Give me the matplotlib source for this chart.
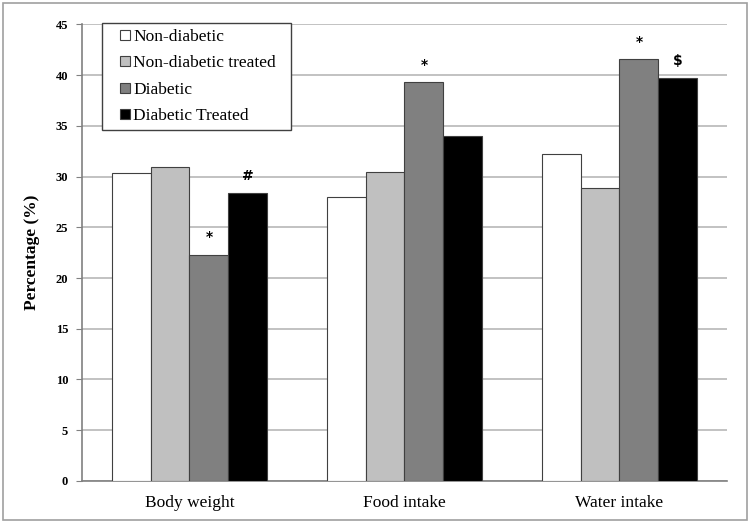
import numpy as np
import matplotlib.pyplot as plt
from matplotlib.patches import Rectangle
from matplotlib.lines import Line2D

categories = ['Body weight', 'Food intake', 'Water intake']
series = ['Non-diabetic', 'Non-diabetic treated', 'Diabetic', 'Diabetic Treated']
non_diabetic = [30.3, 28.0, 32.2]
non_diabetic_treated = [30.9, 30.4, 28.9]
diabetic = [22.3, 39.3, 41.6]
diabetic_treated = [28.35, 34.0, 39.7]
# significance marks: (category index, series index, symbol)
marks = [(0, 2, '*'), (0, 3, '#'), (1, 2, '*'), (2, 2, '*'), (2, 3, '$')]

colors = ['white', '#c0c0c0', '#808080', 'black']
values = [non_diabetic, non_diabetic_treated, diabetic, diabetic_treated]

plt.rcParams['font.family'] = 'Liberation Serif'

fig = plt.figure(figsize=(7.5, 5.24), dpi=100)
fig.patches.append(Rectangle((0.004, 0.008), 0.992, 0.986, transform=fig.transFigure,
                             fill=False, edgecolor='#a0a0a0', linewidth=1.2))
ax = fig.add_axes([0.1093, 0.0821, 0.86, 0.8715])

x = np.arange(len(categories))
w = 0.725 / 4
for i, (name, vals) in enumerate(zip(series, values)):
    ax.bar(x + (i - 1.5) * w, vals, w, color=colors[i], edgecolor='#404040',
           linewidth=0.8, label=name, zorder=3)

for c, s, sym in marks:
    ax.text(x[c] + (s - 1.5) * w, values[s][c] + 1.7, sym, ha='center', va='center',
            fontsize=10, fontweight='bold', family='DejaVu Sans', zorder=4)

ax.set_xlim(-0.5, 2.5)
ax.set_ylim(0, 45)
ax.set_yticks(np.arange(0, 46, 5))
ax.set_xticks(x)
ax.set_xticklabels(categories, fontsize=12.5)
ax.tick_params(axis='x', length=0, pad=10)
ax.tick_params(axis='y', length=4, width=0.8, color='#808080', labelsize=9, pad=6)
for lab in ax.get_yticklabels():
    lab.set_fontweight('bold')
ax.yaxis.grid(True, color='#b8b8b8', linewidth=1.2, zorder=0)
ax.set_axisbelow(True)
for sp in ['top', 'right']:
    ax.spines[sp].set_visible(False)
for sp in ['left', 'bottom']:
    ax.spines[sp].set_color('#808080')
    ax.spines[sp].set_linewidth(1.2)

ax.set_ylabel('Percentage (%)', fontsize=12.5, fontweight='bold', labelpad=11)

handles = [Line2D([], [], linestyle='none', marker='s', markersize=7.5,
                  markerfacecolor=colors[i], markeredgecolor='#404040',
                  markeredgewidth=0.8) for i in range(len(series))]
leg = ax.legend(handles, series, loc='upper left',
                bbox_to_anchor=(0.031, 0.5, 0.293, 0.502), mode='expand',
                fontsize=12.5, frameon=True, fancybox=False, edgecolor='#404040',
                framealpha=1, handlelength=2.0, handletextpad=-0.5,
                labelspacing=0.6, borderpad=0.3, borderaxespad=0)
leg.get_frame().set_linewidth(1.0)

plt.savefig('out.png', dpi=100)
